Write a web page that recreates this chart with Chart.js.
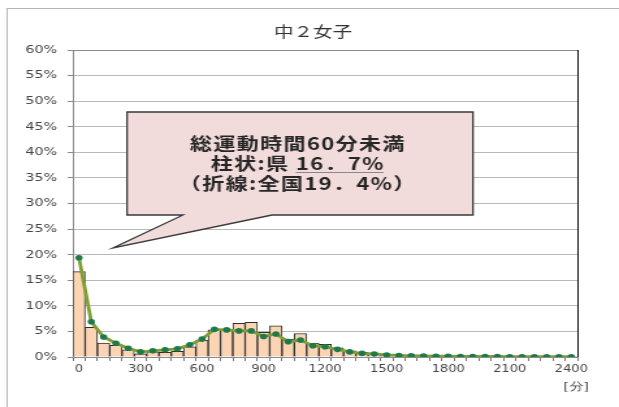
<!DOCTYPE html>
<html lang="ja">
<head>
    <meta charset="utf-8">
    <title>中２女子 総運動時間</title>
    <script src="https://cdn.jsdelivr.net/npm/chart.js"></script>
    <style>
        body { margin: 0; background: #fff; }
    </style>
</head>
<body>
    <!-- the source picture is stretched sideways, so the canvas is drawn narrow and widened by its style -->
    <canvas id="myChart" width="476" height="407" style="display:block;width:619px;height:407px"></canvas>
    <script>
        // minutes (bins of 60)
        var minutes = ['0', '60', '120', '180', '240', '300', '360', '420', '480', '540',
                       '600', '660', '720', '780', '840', '900', '960', '1020', '1080', '1140',
                       '1200', '1260', '1320', '1380', '1440', '1500', '1560', '1620', '1680', '1740',
                       '1800', '1860', '1920', '1980', '2040', '2100', '2160', '2220', '2280', '2340',
                       '2400'];
        // 県 (bars), %
        var prefValues = [16.7, 5.8, 2.7, 2.3, 1.4, 0.6, 1.0, 0.9, 1.1, 2.0,
                          3.3, 5.3, 5.2, 6.6, 6.8, 4.8, 6.1, 3.5, 4.6, 2.7,
                          2.5, 1.8, 1.2, 0.9, 0.7, 0.5, 0.4, 0.3, 0.2, 0.2,
                          0.15, 0.1, 0.1, 0.1, 0.05, 0.05, 0.05, 0.05, 0.05, 0.05,
                          0.05];
        // 全国 (line), %
        var nationValues = [19.4, 6.9, 3.9, 2.7, 1.7, 1.0, 1.2, 1.4, 1.6, 2.4,
                            3.5, 5.4, 5.3, 5.1, 5.1, 4.0, 4.5, 3.0, 3.3, 2.2,
                            2.0, 1.5, 1.0, 0.7, 0.6, 0.4, 0.3, 0.25, 0.2, 0.15,
                            0.15, 0.1, 0.1, 0.1, 0.1, 0.05, 0.05, 0.05, 0.05, 0.05,
                            0.05];
        var xTickLabels = ['0', '300', '600', '900', '1200', '1500', '1800', '2100', '2400'];
        var yTicks = [0, 5, 10, 15, 20, 25, 30, 35, 40, 45, 50, 55, 60];

        var title = '中２女子';
        var xUnit = '[分]';
        var noteLines = ['総運動時間60分未満', '柱状:県 ', '16．7%', '（折線:全国19．4%）'];

        var decor = {
            id: 'decor',
            afterDraw: function (chart) {
                var ctx = chart.ctx, a = chart.chartArea;
                ctx.save();

                // outer frame
                ctx.strokeStyle = '#b4b4b4';
                ctx.lineWidth = 1;
                ctx.strokeRect(5.5, 8.5, 600, 500);

                // top and right edge of plot area
                ctx.strokeStyle = '#8c8c8c';
                ctx.beginPath();
                ctx.moveTo(a.left, a.top + 0.5);
                ctx.lineTo(a.right, a.top + 0.5);
                ctx.stroke();
                ctx.strokeStyle = '#111';
                ctx.beginPath();
                ctx.moveTo(a.right + 0.5, a.top);
                ctx.lineTo(a.right + 0.5, a.bottom);
                ctx.stroke();

                // title
                ctx.fillStyle = '#333';
                ctx.textAlign = 'center';
                ctx.textBaseline = 'middle';
                ctx.font = '15px "Noto Sans CJK JP"';
                ctx.fillText(title, 240.7, 31);

                // unit under x axis
                ctx.font = '11px "DejaVu Sans"';
                ctx.fillStyle = '#444';
                ctx.fillText(xUnit, 443, 387);

                // callout box with tail
                ctx.beginPath();
                ctx.moveTo(97.7, 112);
                ctx.lineTo(363.7, 112);
                ctx.lineTo(363.7, 215);
                ctx.lineTo(209.2, 215);
                ctx.lineTo(86.9, 248);
                ctx.lineTo(140.7, 215);
                ctx.lineTo(97.7, 215);
                ctx.closePath();
                ctx.fillStyle = '#f2dcdb';
                ctx.fill();
                ctx.strokeStyle = '#3a3a3a';
                ctx.lineWidth = 1.3;
                ctx.stroke();

                var cx = 229;
                ctx.fillStyle = '#262626';
                ctx.font = 'bold 17px "Noto Sans CJK JP"';
                ctx.letterSpacing = '1px';
                ctx.textAlign = 'center';
                ctx.fillText(noteLines[0], cx, 144);

                var w1 = ctx.measureText(noteLines[1]).width;
                var w2 = ctx.measureText(noteLines[2]).width;
                var x0 = cx - (w1 + w2) / 2;
                ctx.textAlign = 'left';
                ctx.fillText(noteLines[1], x0, 164);
                ctx.fillText(noteLines[2], x0 + w1, 164);
                ctx.strokeStyle = '#888';
                ctx.lineWidth = 1.2;
                ctx.beginPath();
                ctx.moveTo(x0 + w1, 172.5);
                ctx.lineTo(x0 + w1 + w2 - 1, 172.5);
                ctx.stroke();

                ctx.textAlign = 'center';
                ctx.fillText(noteLines[3], cx, 183.5);
                ctx.restore();
            }
        };

        var ctx = document.getElementById('myChart').getContext('2d');
        var myChart = new Chart(ctx, {
            type: 'bar',
            data: {
                labels: minutes,
                datasets: [{
                    type: 'line',
                    label: '全国',
                    data: nationValues,
                    borderColor: '#7f9f35',
                    borderWidth: 2.8,
                    pointRadius: 2.8,
                    pointBorderWidth: 0,
                    pointBackgroundColor: '#1f7a4a',
                    tension: 0,
                    order: 0
                }, {
                    label: '県',
                    data: prefValues,
                    backgroundColor: '#fbd4b4',
                    borderColor: '#2e2e2e',
                    borderWidth: 1,
                    barPercentage: 1,
                    categoryPercentage: 1,
                    order: 1
                }]
            },
            options: {
                responsive: false,
                animation: false,
                layout: { padding: { top: 50, right: 32, left: 0, bottom: 0 } },
                plugins: {
                    legend: { display: false },
                    tooltip: { enabled: false }
                },
                scales: {
                    x: {
                        offset: true,
                        afterFit: function (s) { s.height = 50; },
                        grid: { offset: true, drawOnChartArea: false, color: '#777', tickLength: 4 },
                        border: { color: '#8c8c8c' },
                        ticks: {
                            autoSkip: false,
                            maxRotation: 0,
                            padding: 2,
                            color: '#444',
                            font: { family: 'DejaVu Sans', size: 10 },
                            callback: function (v, i) {
                                return i % 5 === 0 ? xTickLabels[i / 5] : '';
                            }
                        }
                    },
                    y: {
                        min: yTicks[0],
                        max: yTicks[yTicks.length - 1],
                        afterFit: function (s) { s.width = 56; },
                        afterBuildTicks: function (s) {
                            s.ticks = yTicks.map(function (v) { return { value: v }; });
                        },
                        grid: {
                            color: '#b8b8b8',
                            borderDash: [1.5, 2],
                            tickBorderDash: [],
                            tickColor: '#888',
                            tickLength: 4
                        },
                        border: { color: '#8c8c8c' },
                        ticks: {
                            padding: 8,
                            color: '#444',
                            font: { family: 'DejaVu Sans', size: 11 },
                            callback: function (v) { return v + '%'; }
                        }
                    }
                }
            },
            plugins: [decor]
        });
    </script>
</body>
</html>
